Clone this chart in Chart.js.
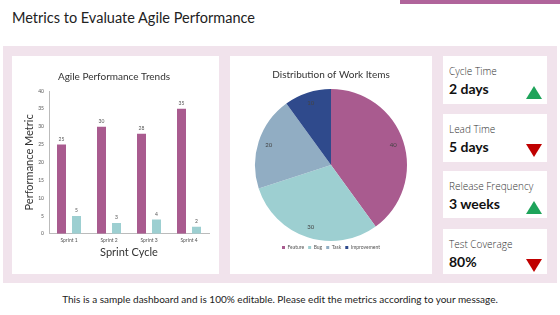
<!DOCTYPE html>
<html><head><meta charset="utf-8">
<script src="https://cdn.jsdelivr.net/npm/chart.js@4.4.0/dist/chart.umd.min.js"></script>
<style>
html,body{margin:0;padding:0;width:560px;height:315px;overflow:hidden;background:#fff;font-family:"Lato","Open Sans",sans-serif;}
#topbar{position:absolute;left:400px;top:0;width:160px;height:4px;background:#b0649b;}
#title{position:absolute;left:12px;top:9px;font-size:14.5px;color:#222;}
#panel{position:absolute;left:3px;top:46px;width:554px;height:237px;background:#f1e3ec;}
.card{position:absolute;background:#fff;}
#barCard{left:12px;top:56px;width:207px;height:218px;}
#pieCard{left:230px;top:56px;width:202px;height:218px;}
.kpi{left:443px;width:104px;}
.kpi .lbl{position:absolute;left:6px;top:8px;font-size:10px;color:#333;font-family:"Open Sans",sans-serif;font-weight:300;}
.kpi .val{position:absolute;left:6px;top:24px;font-size:14px;font-weight:bold;color:#111;}
.tri{position:absolute;right:5px;top:30px;width:0;height:0;border-left:8px solid transparent;border-right:8px solid transparent;}
.up{border-bottom:13px solid #1ea35a;}
.down{border-top:13px solid #c00000;}
#foot{position:absolute;left:0;top:293px;width:560px;text-align:center;font-size:10px;color:#222;}
canvas{position:absolute;left:0;top:0;}
</style></head>
<body>
<div id="topbar"></div>
<div id="title">Metrics to Evaluate Agile Performance</div>
<div id="panel"></div>
<div class="card" id="barCard"><canvas id="bar" width="207" height="218"></canvas></div>
<div class="card" id="pieCard"><canvas id="pie" width="202" height="218"></canvas></div>
<div id="kpis"></div>
<div id="foot">This is a sample dashboard and is 100% editable. Please edit the metrics according to your message.</div>
<script>
const sprints = ["Sprint 1","Sprint 2","Sprint 3","Sprint 4"];
const seriesA = [25,30,28,35];
const seriesB = [5,3,4,2];
const yTicksMax = 40;
const workTypes = ["Feature","Bug","Task","Improvement"];
const workCounts = [40,30,20,10];
const kpiNames = ["Cycle Time","Lead Time","Release Frequency","Test Coverage"];
const kpiValues = ["2 days","5 days","3 weeks","80%"];
const kpiTrend = ["up","down","up","down"];

const kpiTops = [56,114,171,229];
const kpiHeights = [48,48,47,45];
const kc = document.getElementById('kpis');
kpiNames.forEach((n,i)=>{
  const d=document.createElement('div');
  d.className='card kpi';
  d.style.top=kpiTops[i]+'px';d.style.height=kpiHeights[i]+'px';
  d.innerHTML='<div class="lbl">'+n+'</div><div class="val">'+kpiValues[i]+'</div><div class="tri '+kpiTrend[i]+'"></div>';
  kc.appendChild(d);
});

const FONT = "'Lato','Open Sans',sans-serif";
const barLabels = {
  id:'barLabels',
  afterDatasetsDraw(chart){
    const ctx=chart.ctx;
    ctx.save();
    ctx.font="5px "+FONT;ctx.fillStyle="#555";ctx.textAlign="center";ctx.textBaseline="bottom";
    chart.data.datasets.forEach((ds,i)=>{
      chart.getDatasetMeta(i).data.forEach((el,j)=>{
        ctx.fillText(ds.data[j], el.x, el.y-3);
      });
    });
    ctx.restore();
  }
};
new Chart(document.getElementById('bar'),{
  type:'bar',
  data:{labels:sprints,datasets:[
    {data:seriesA,backgroundColor:'#a95b8f'},
    {data:seriesB,backgroundColor:'#9dcfd1'}
  ]},
  options:{
    responsive:false,animation:false,
    layout:{padding:{left:7,right:10,top:3,bottom:11}},
    plugins:{legend:{display:false},tooltip:{enabled:false},
      title:{display:true,text:'Agile Performance Trends',color:'#333',font:{family:FONT,size:10,weight:'normal'},padding:{top:12,bottom:8}}},
    datasets:{bar:{categoryPercentage:0.75,barPercentage:0.6}},
    scales:{
      x:{grid:{display:false,drawTicks:true,tickLength:3},border:{color:'#bbb'},
        ticks:{color:'#555',font:{family:FONT,size:5},padding:1},
        title:{display:true,text:'Sprint Cycle',color:'#333',font:{family:FONT,size:11},padding:{top:1}}},
      y:{min:0,max:yTicksMax,grid:{display:false,tickLength:3},border:{color:'#bbb'},
        ticks:{stepSize:5,color:'#555',font:{family:FONT,size:5},padding:2},
        title:{display:true,text:'Performance Metric',color:'#333',font:{family:FONT,size:11},padding:{bottom:0}}}
    }
  },
  plugins:[barLabels]
});

const pieLabels = {
  id:'pieLabels',
  afterDatasetsDraw(chart){
    const ctx=chart.ctx;
    ctx.save();
    ctx.font="6px "+FONT;ctx.fillStyle="#444";ctx.textAlign="center";ctx.textBaseline="middle";
    chart.getDatasetMeta(0).data.forEach((el,j)=>{
      const a=(el.startAngle+el.endAngle)/2;
      const r=el.outerRadius*0.86;
      ctx.fillText(chart.data.datasets[0].data[j], el.x+Math.cos(a)*r, el.y+Math.sin(a)*r);
    });
    ctx.restore();
  }
};
new Chart(document.getElementById('pie'),{
  type:'pie',
  data:{labels:workTypes,datasets:[{data:workCounts,backgroundColor:['#a95b8f','#9dcfd1','#91adc3','#2f4a8c'],borderWidth:0}]},
  options:{
    responsive:false,animation:false,
    layout:{padding:{left:10,right:10,top:1,bottom:14}},
    plugins:{tooltip:{enabled:false},
      title:{display:true,text:'Distribution of Work Items',color:'#333',font:{family:FONT,size:10,weight:'normal'},padding:{top:12,bottom:8}},
      legend:{position:'bottom',labels:{color:'#555',font:{family:FONT,size:5},boxWidth:3,boxHeight:3,padding:4}}}
  },
  plugins:[pieLabels]
});
</script>
</body></html>
